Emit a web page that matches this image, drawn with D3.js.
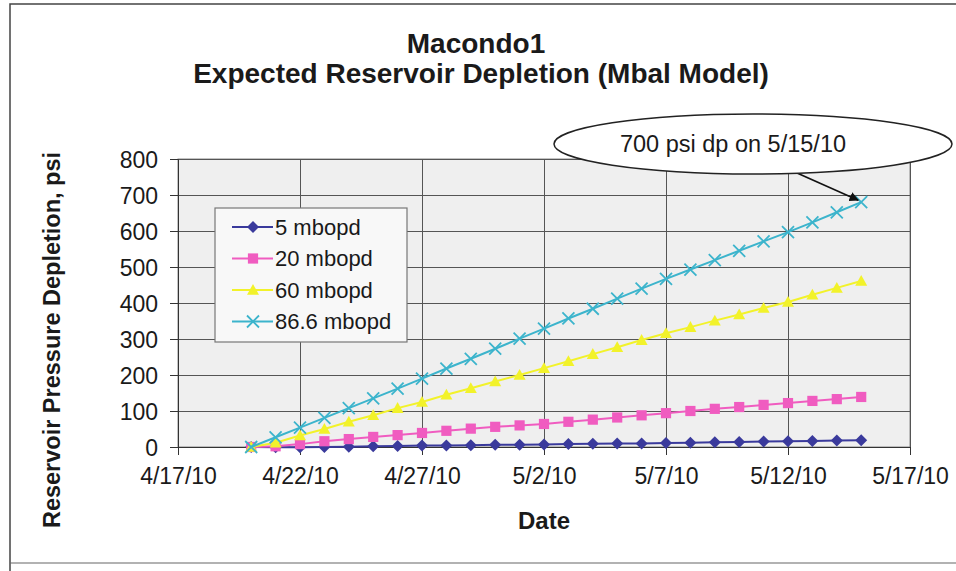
<!DOCTYPE html>
<html><head><meta charset="utf-8">
<script src="https://cdn.jsdelivr.net/npm/d3@7"></script>
<style>
body{margin:0;background:#fff;}
text{font-family:Arial,"Liberation Sans",sans-serif;fill:#1a1a1a;}
</style></head>
<body><svg id="c" width="956" height="571"></svg>
<script>
const dates = ["2010-04-20","2010-04-21","2010-04-22","2010-04-23","2010-04-24","2010-04-25","2010-04-26","2010-04-27","2010-04-28","2010-04-29","2010-04-30","2010-05-01","2010-05-02","2010-05-03","2010-05-04","2010-05-05","2010-05-06","2010-05-07","2010-05-08","2010-05-09","2010-05-10","2010-05-11","2010-05-12","2010-05-13","2010-05-14","2010-05-15"];
const seriesNames = ["5 mbopd","20 mbopd","60 mbopd","86.6 mbopd"];
const s5   = [0,-1,-1,0,1,2,3,4,4,5,6,6,7,8,9,10,10,11,12,13,14,15,16,17,18,19];
const s20  = [0,2,8,16,22,28,33,39,45,51,56,60,64,70,76,82,88,94,100,106,111,117,122,128,133,139];
const s60  = [0,12,32,50,70,88,108,125,145,163,182,200,219,238,258,277,297,316,333,351,368,386,403,423,442,461];
const s866 = [0,27,54,81,108,135,162,190,218,245,273,301,329,357,384,412,440,467,493,519,545,571,597,624,652,680];
const xTicks = ["2010-04-17","2010-04-22","2010-04-27","2010-05-02","2010-05-07","2010-05-12","2010-05-17"];
const yTicks = [0,100,200,300,400,500,600,700,800];
const titleLines = ["Macondo1","Expected Reservoir Depletion (Mbal Model)"];
const callout = {text:"700 psi dp on 5/15/10", date:"2010-05-15", value:680};

const colors = ["#3a3a9c","#f05cc0","#f2f22a","#3cb4cc"];
const shapes = ["diamond","square","triangle","x"];
const allSeries = [s5,s20,s60,s866];

const parse = d3.utcParse("%Y-%m-%d");
const fmt = d => (d.getUTCMonth()+1)+"/"+d.getUTCDate()+"/"+String(d.getUTCFullYear()).slice(2);

const svg = d3.select("#c");
const L=178,R=910,T=159,B=447;
const x = d3.scaleUtc().domain([parse(xTicks[0]), parse(xTicks[xTicks.length-1])]).range([L,R]);
const y = d3.scaleLinear().domain([0,800]).range([B,T]);

// outer chart border
svg.append("path").attr("d","M10,571 L10,4 L956,4").attr("fill","none").attr("stroke","#444").attr("stroke-width",1.5);
svg.append("line").attr("x1",10).attr("x2",956).attr("y1",563).attr("y2",563).attr("stroke","#666").attr("stroke-width",1.2);

// plot area
svg.append("rect").attr("x",L).attr("y",T).attr("width",R-L).attr("height",B-T).attr("fill","#efefef").attr("stroke","#888").attr("stroke-width",1);

// gridlines
const gy = svg.append("g").attr("transform",`translate(${L},0)`)
  .call(d3.axisLeft(y).tickValues(yTicks).tickSize(-(R-L)).tickFormat(""));
gy.select(".domain").remove();
gy.selectAll("line").attr("stroke","#555").attr("stroke-width",1);
const gx = svg.append("g").attr("transform",`translate(0,${B})`)
  .call(d3.axisBottom(x).tickValues(xTicks.map(parse)).tickSize(-(B-T)).tickFormat(""));
gx.select(".domain").remove();
gx.selectAll("line").attr("stroke","#555").attr("stroke-width",1);

// axes
const ay = svg.append("g").attr("transform",`translate(${L},0)`)
  .call(d3.axisLeft(y).tickValues(yTicks).tickSize(8).tickPadding(12));
ay.select(".domain").attr("stroke","#333");
ay.selectAll("line").attr("stroke","#333");
ay.selectAll("text").style("font-size","23px").attr("fill","#1a1a1a").attr("dy","0.35em");
const ax = svg.append("g").attr("transform",`translate(0,${B})`)
  .call(d3.axisBottom(x).tickValues(xTicks.map(parse)).tickSize(8).tickPadding(13).tickFormat(fmt));
ax.select(".domain").attr("stroke","#333");
ax.selectAll("line").attr("stroke","#333");
ax.selectAll("text").style("font-size","23px").attr("fill","#1a1a1a");

// titles
svg.append("text").attr("x",476).attr("y",53).attr("text-anchor","middle").style("font-size","28px").style("font-weight","bold").text(titleLines[0]);
svg.append("text").attr("x",481).attr("y",83).attr("text-anchor","middle").style("font-size","28px").style("font-weight","bold").text(titleLines[1]);
svg.append("text").attr("x",544).attr("y",529).attr("text-anchor","middle").style("font-size","24px").style("font-weight","bold").text("Date");
svg.append("text").attr("transform","translate(60,340) rotate(-90)").attr("text-anchor","middle").style("font-size","23.5px").style("font-weight","bold").text("Reservoir Pressure Depletion, psi");

// markers
function marker(sel, shape, color, size){
  const s=size;
  if(shape==="diamond") sel.append("path").attr("d",`M0,${-s} L${s},0 L0,${s} L${-s},0Z`).attr("fill",color);
  else if(shape==="square") sel.append("rect").attr("x",-s*0.85).attr("y",-s*0.85).attr("width",s*1.7).attr("height",s*1.7).attr("fill",color);
  else if(shape==="triangle") sel.append("path").attr("d",`M0,${-s} L${s},${s*0.8} L${-s},${s*0.8}Z`).attr("fill",color);
  else sel.append("path").attr("d",`M${-s},${-s} L${s},${s} M${-s},${s} L${s},${-s}`).attr("stroke",color).attr("stroke-width",1.8);
}

const line = d3.line().x(d=>x(d[0])).y(d=>y(d[1]));
allSeries.forEach((vals,i)=>{
  const pts = dates.map((d,j)=>[parse(d),vals[j]]);
  const g = svg.append("g");
  g.append("path").attr("d",line(pts)).attr("fill","none").attr("stroke",colors[i]).attr("stroke-width",2);
  pts.forEach(p=>{
    const m = g.append("g").attr("transform",`translate(${x(p[0])},${y(p[1])})`);
    marker(m, shapes[i], colors[i], 6);
  });
});

// legend
const lg = svg.append("g");
lg.append("rect").attr("x",215).attr("y",208).attr("width",192).attr("height",134).attr("fill","#f8f8f8").attr("stroke","#777").attr("stroke-width",1.2);
seriesNames.forEach((n,i)=>{
  const yy = 227 + i*31.5;
  lg.append("line").attr("x1",232).attr("x2",273).attr("y1",yy).attr("y2",yy).attr("stroke",colors[i]).attr("stroke-width",2);
  const m = lg.append("g").attr("transform",`translate(253,${yy})`);
  marker(m, shapes[i], colors[i], 6);
  lg.append("text").attr("x",275).attr("y",yy).attr("dy","0.35em").style("font-size","22px").text(n);
});

// callout
svg.append("defs").append("marker").attr("id","ah").attr("viewBox","0 0 10 10").attr("refX",9).attr("refY",5)
  .attr("markerWidth",6).attr("markerHeight",6).attr("orient","auto")
  .append("path").attr("d","M0,0 L10,5 L0,10Z").attr("fill","#111");
const px = x(parse(callout.date)), py = y(callout.value);
svg.append("line").attr("x1",797).attr("y1",173).attr("x2",px-3).attr("y2",py-2).attr("stroke","#111").attr("stroke-width",1.6).attr("marker-end","url(#ah)");
svg.append("ellipse").attr("cx",753).attr("cy",144).attr("rx",199).attr("ry",30).attr("fill","#fff").attr("stroke","#222").attr("stroke-width",1.5);
svg.append("text").attr("x",733).attr("y",144).attr("dy","0.35em").attr("text-anchor","middle").style("font-size","23.5px").text(callout.text);
</script></body></html>
